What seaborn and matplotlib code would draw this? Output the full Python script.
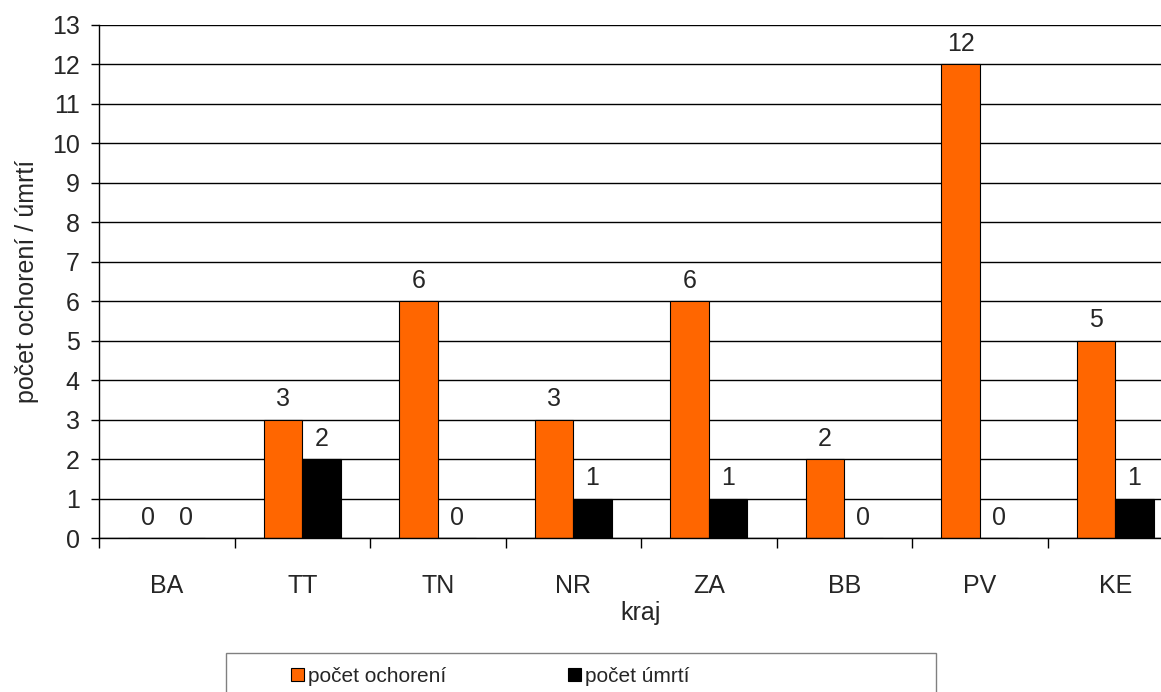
import matplotlib
matplotlib.use("Agg")
import matplotlib.pyplot as plt
from matplotlib.patches import Rectangle
import seaborn as sns
import pandas as pd
import numpy as np

# Regional counts of cases and deaths
regions = ["BA", "TT", "TN", "NR", "ZA", "BB", "PV", "KE"]
cases = [0, 3, 6, 3, 6, 2, 12, 5]
deaths = [0, 2, 0, 1, 1, 0, 0, 1]
series_names = ["počet ochorení", "počet úmrtí"]
series_colors = ["#FF6600", "#000000"]

df = pd.DataFrame({
    "kraj": regions * 2,
    "hodnota": cases + deaths,
    "séria": [series_names[0]] * len(regions) + [series_names[1]] * len(regions),
})

sns.set_style("white")
plt.rcParams["font.family"] = ["Liberation Sans", "DejaVu Sans"]
FS = 18

W, H = 1161, 692
fig = plt.figure(figsize=(W / 100, H / 100), dpi=100)
ax = fig.add_axes([99 / W, 1 - 538 / H, (1183 - 99) / W, (538 - 25) / H])

sns.barplot(
    data=df, x="kraj", y="hodnota", hue="séria", order=regions,
    hue_order=series_names, palette=series_colors, width=0.568, gap=0,
    edgecolor="black", linewidth=0.8, saturation=1, legend=False, ax=ax,
)

for cont in ax.containers:
    ax.bar_label(cont, fmt="%d", padding=6, fontsize=FS)

ax.set_xlim(-0.5, len(regions) - 0.5)
ax.set_ylim(0, 13)
ax.set_yticks(np.arange(0, 14, 1))
ax.yaxis.grid(True, color="black", linewidth=1)
ax.set_axisbelow(True)
for s in ["top", "right"]:
    ax.spines[s].set_visible(False)
for s in ["left", "bottom"]:
    ax.spines[s].set_color("black")
    ax.spines[s].set_linewidth(1)

ax.tick_params(axis="y", which="major", length=6, width=1, color="black", labelsize=FS, pad=8, left=True)
ax.tick_params(axis="x", which="major", length=0, labelsize=FS, pad=26)
ax.set_xticks(np.arange(-0.5, len(regions), 1), minor=True)
ax.tick_params(axis="x", which="minor", length=7, width=1, color="black", bottom=True)

ax.set_xlabel("kraj", fontsize=FS, labelpad=2)
ax.set_ylabel("počet ochorení / úmrtí", fontsize=FS, labelpad=9)

# Legend with a plain rectangular frame below the axes
fig.patches.append(Rectangle((226 / W, -0.05), (936 - 226) / W, 1 - 653 / H + 0.05,
                             transform=fig.transFigure, facecolor="white",
                             edgecolor="#808080", linewidth=1))
handles = [Rectangle((0, 0), 1, 1, facecolor=c, edgecolor="black", linewidth=0.8)
           for c in series_colors]
fig.legend(handles, series_names, loc="center left", frameon=False, ncol=2,
           bbox_to_anchor=(281 / W, 1 - 676 / H), fontsize=15,
           handlelength=0.6, handleheight=0.6, handletextpad=0.2,
           columnspacing=5.85, borderpad=0)

fig.savefig("out.png", dpi=100)
